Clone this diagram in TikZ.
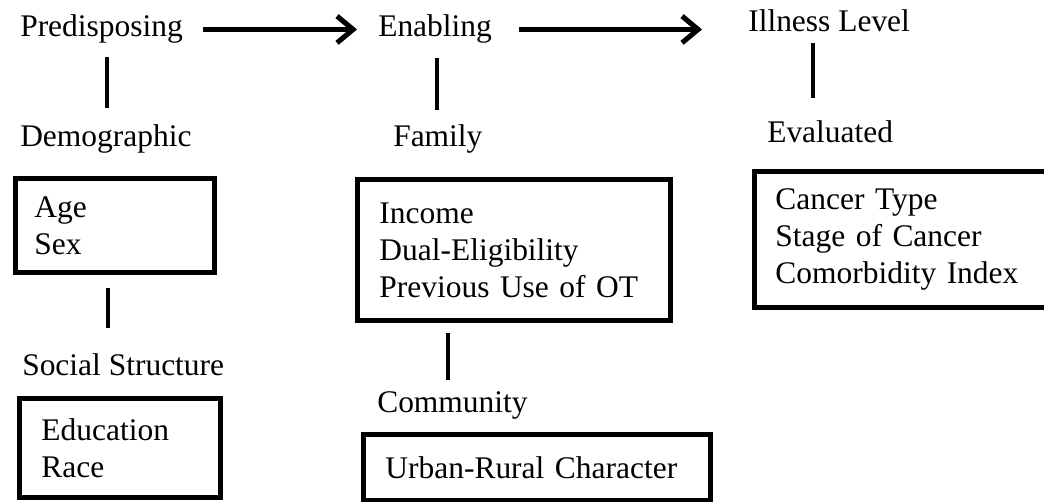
\documentclass[tikz,border=0pt]{standalone}
\usepackage{fontspec}
\setmainfont{Liberation Serif}
\newfontfamily\diagfont{Liberation Serif}
\usetikzlibrary{arrows.meta}

\tikzset{
  lbl/.style={anchor=base west, inner sep=0pt, font=\diagfont\fontsize{23.6pt}{27.75pt}\selectfont},
  box/.style={draw, line width=3.6pt, anchor=north west, inner ysep=0pt, align=left,
              font=\diagfont\fontsize{23.6pt}{27.75pt}\selectfont},
  link/.style={line width=3pt},
  flow/.style={line width=3.8pt, -{Straight Barb[length=12pt,width=20pt]},
               preaction={draw=gray!55, transform canvas={shift={(1.5,1.8)}}}},
}

\begin{document}
\begin{tikzpicture}[x=0.75pt,y=0.75pt,yscale=-1,xscale=1]
    \useasboundingbox (0,0) rectangle (1044,502);
    % headings
    \node [lbl] (pred) at (20,37) {Predisposing};
    \node [lbl] (enab) at (378,37) {Enabling};
    \node [lbl] (ill) at (748,32) {Illness Level};
    % sub headings
    \node [lbl] (demo) at (20,147) {Demographic};
    \node [lbl] (fam) at (393,147) {Family};
    \node [lbl] (eval) at (767,143) {Evaluated};
    \node [lbl] (soc) at (22,375) {Social Structure};
    \node [lbl] (comm) at (377,412) {Community};
    % boxes
    \node [box, minimum width=149.25pt, minimum height=70.5pt, inner xsep=14.25pt, text width=120.75pt] (demobox) at (13,176) {Age\\Sex};
    \node [box, minimum width=150.75pt, minimum height=74.25pt, inner xsep=16.5pt, text width=117.75pt] (socbox) at (17,396) {Education\\Race};
    \node [box, minimum width=234.75pt, minimum height=105.75pt, inner xsep=16.5pt, text width=201.75pt] (fambox) at (355,177) {Income\\Dual-Eligibility\\Previous Use of OT};
    \node [box, minimum width=260.25pt, minimum height=49.5pt, inner xsep=16.5pt, text width=227.25pt] (commbox) at (361,432) {Urban-Rural Character};
    \node [box, minimum width=225pt, minimum height=102pt, inner xsep=15.75pt, text width=193.5pt] (evalbox) at (752,169) {Cancer Type\\Stage of Cancer\\Comorbidity Index};
    % arrows
    \draw [flow, shorten <=15pt, shorten >=15.75pt] (pred.east) -- (pred.east -| enab.west);
    \draw [flow, shorten <=20pt, shorten >=34.5pt] (enab.east) -- (enab.east -| ill.west);
    % vertical links
    \coordinate (v1a) at (107,57);  \coordinate (v1b) at (107,108);
    \coordinate (v2a) at (437,58);  \coordinate (v2b) at (437,110);
    \coordinate (v3a) at (813,43);  \coordinate (v3b) at (813,98);
    \coordinate (v4a) at (448,333); \coordinate (v4b) at (448,380);
    \coordinate (v5a) at (108,288); \coordinate (v5b) at (108,328);
    \draw [link] (v1a) -- (v1b);
    \draw [link] (v2a) -- (v2b);
    \draw [link] (v3a) -- (v3b);
    \draw [link] (v4a) -- (v4b);
    \draw [link] (v5a) -- (v5b);
\end{tikzpicture}
\end{document}
